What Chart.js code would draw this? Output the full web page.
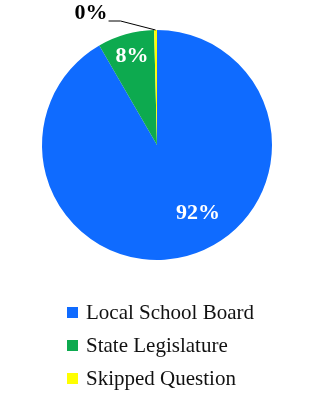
<!DOCTYPE html>
<html>
<head>
<meta charset="utf-8">
<script src="https://cdn.jsdelivr.net/npm/chart.js@4.4.1/dist/chart.umd.min.js"></script>
<style>
  html, body { margin: 0; padding: 0; background: #fff; }
  #wrap { width: 334px; height: 400px; }
</style>
</head>
<body>
<div id="wrap"><canvas id="pieChart" width="334" height="400"></canvas></div>
<script>
// data
const categories = ["Local School Board", "State Legislature", "Skipped Question"];
const values = [92, 8, 0.4];
const valueLabels = ["92%", "8%", "0%"];
const colors = ["#0F6BFF", "#0DAA4F", "#FFFF00"];

const FONT = "'Liberation Serif', 'DejaVu Serif', serif";

// labels on the slices (Excel-like placement)
const sliceLabels = {
    id: "sliceLabels",
    afterDatasetsDraw(chart) {
        const ctx = chart.ctx;
        const arcs = chart.getDatasetMeta(0).data;
        ctx.save();
        ctx.font = "bold 22px " + FONT;
        ctx.textBaseline = "middle";
        arcs.forEach((arc, i) => {
            const p = arc.getProps(["x", "y", "startAngle", "endAngle", "outerRadius"], true);
            const mid = (p.startAngle + p.endAngle) / 2;
            if (i === 2) {
                // tiny slice: label outside with leader line
                const ex = p.x + p.outerRadius * Math.cos(mid);
                const ey = p.y + p.outerRadius * Math.sin(mid);
                ctx.strokeStyle = "#000";
                ctx.lineWidth = 1;
                ctx.beginPath();
                ctx.moveTo(ex - 47, ey - 9);
                ctx.lineTo(ex - 35, ey - 9);
                ctx.lineTo(ex, ey);
                ctx.stroke();
                ctx.fillStyle = "#000";
                ctx.textAlign = "right";
                ctx.fillText(valueLabels[i], ex - 48, ey - 17);
                return;
            }
            let a = mid, f = 0.8;
            if (i === 0) { a = mid - 0.28; f = 0.69; }
            ctx.fillStyle = "#fff";
            ctx.textAlign = "center";
            ctx.fillText(valueLabels[i], p.x + p.outerRadius * f * Math.cos(a), p.y + p.outerRadius * f * Math.sin(a));
        });
        ctx.restore();
    }
};

// vertical legend under the pie
const sideLegend = {
    id: "sideLegend",
    afterDraw(chart) {
        const ctx = chart.ctx;
        ctx.save();
        ctx.font = "21px " + FONT;
        ctx.textBaseline = "middle";
        ctx.textAlign = "left";
        categories.forEach((name, i) => {
            const y = 312 + i * 33;
            ctx.fillStyle = colors[i];
            ctx.fillRect(67, y - 5, 11, 11);
            ctx.fillStyle = "#111";
            ctx.fillText(name, 86, y + 1);
        });
        ctx.restore();
    }
};

new Chart(document.getElementById("pieChart").getContext("2d"), {
    type: "pie",
    data: {
        labels: categories,
        datasets: [{
            data: values,
            backgroundColor: colors,
            borderWidth: 0
        }]
    },
    options: {
        responsive: false,
        animation: false,
        layout: { padding: { left: 42, right: 62, top: 30, bottom: 140 } },
        plugins: {
            legend: { display: false },
            tooltip: { enabled: false }
        }
    },
    plugins: [sliceLabels, sideLegend]
});
</script>
</body>
</html>
